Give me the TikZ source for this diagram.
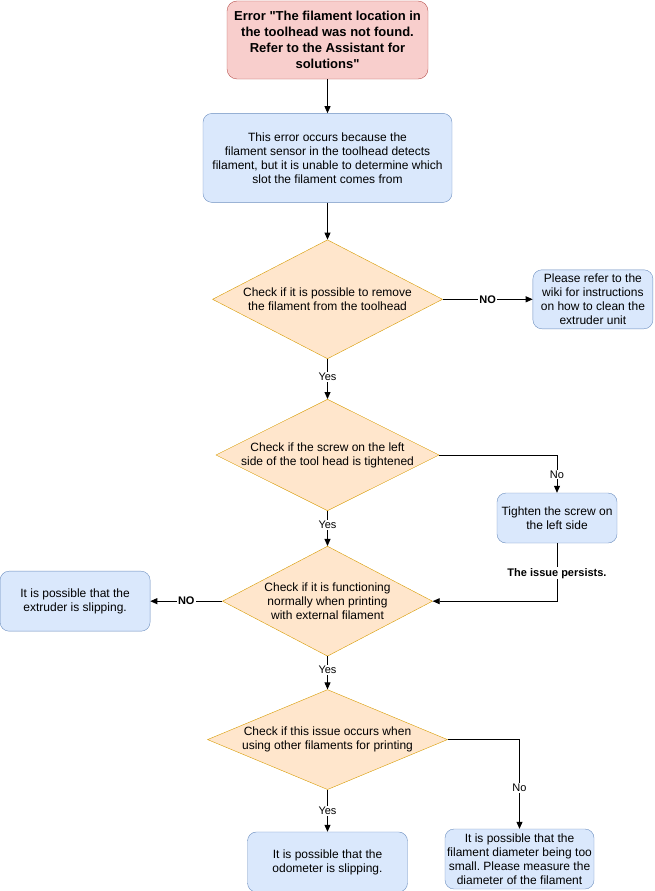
\documentclass[tikz,border=0pt]{standalone}
\usepackage{fontspec}
\setmainfont{Liberation Sans}[Ligatures=TeXOff]
\usetikzlibrary{positioning,shapes.geometric,arrows.meta}
\frenchspacing

\definecolor{errfill}{HTML}{F8CECC}
\definecolor{errline}{HTML}{B85450}
\definecolor{infofill}{HTML}{DAE8FC}
\definecolor{infoline}{HTML}{6C8EBF}
\definecolor{checkfill}{HTML}{FFE6CC}
\definecolor{checkline}{HTML}{D79B00}

\tikzset{
	errbox/.style={draw=errline, fill=errfill, rounded corners=10pt, align=center, inner sep=0pt, font=\fontsize{13}{16}\selectfont\bfseries},
	infobox/.style={draw=infoline, fill=infofill, rounded corners=9pt, align=center, inner sep=0pt, font=\fontsize{12}{14}\selectfont},
	check/.style={diamond, draw=checkline, fill=checkfill, align=center, inner sep=0pt, shape aspect=2, font=\fontsize{12}{14}\selectfont},
	flow/.style={-{Triangle[length=7pt,width=6pt]}, line width=0.8pt},
	lbl/.style={fill=white, inner sep=1pt, font=\fontsize{11}{13}\selectfont},
}

\begin{document}
\begin{tikzpicture}[x=1pt, y=-1pt]
	\useasboundingbox (0,0) rectangle (654,891);

	\node [errbox, minimum width=201pt, minimum height=78pt] (start) at (327.5,40) {Error "The filament location in\\the toolhead was not found.\\Refer to the Assistant for\\solutions"};
	\node [infobox, minimum width=249pt, minimum height=89pt, below=34pt of start] (cause) {This error occurs because the\\filament sensor in the toolhead detects\\filament, but it is unable to determine which\\slot the filament comes from};
	\node [check, minimum width=230pt, minimum height=119pt, below=37pt of cause] (remove) {Check if it is possible to remove\\the filament from the toolhead};
	\node [infobox, minimum width=120pt, minimum height=59pt, right=90pt of remove] (wiki) {Please refer to the\\wiki for instructions\\on how to clean the\\extruder unit};
	\node [check, minimum width=220pt, minimum height=110pt, below=40pt of remove] (screw) {Check if the screw on the left\\side of the tool head is tightened};
	\node [infobox, minimum width=120pt, minimum height=50pt] (tighten) at (557,518) {Tighten the screw on\\the left side};
	\node [check, minimum width=210pt, minimum height=110pt, below=35pt of screw] (external) {Check if it is functioning\\normally when printing\\with external filament};
	\node [infobox, minimum width=150pt, minimum height=60pt, left=72pt of external] (extruder) {It is possible that the\\extruder is slipping.};
	\node [check, minimum width=240pt, minimum height=100pt, shape aspect=2.4, below=33pt of external] (others) {Check if this issue occurs when\\using other filaments for printing};
	\node [infobox, minimum width=160pt, minimum height=60pt, below=42pt of others] (odometer) {It is possible that the\\odometer is slipping.};
	\node [infobox, minimum width=149pt, minimum height=60pt] (diameter) at (519.5,859) {It is possible that the\\filament diameter being too\\small. Please measure the\\diameter of the filament};

	\draw [flow] (start) -- (cause);
	\draw [flow] (cause) -- (remove);
	\draw [flow] (remove) -- node [lbl, font=\fontsize{11}{13}\selectfont\bfseries] {NO} (wiki);
	\draw [flow] (remove) -- node [lbl, pos=0.45] {Yes} (screw);
	\draw [flow] (screw.east) -| node [lbl, pos=0.76] {No} (tighten.north);
	\draw [flow] (tighten.south) |- node [lbl, pos=0.26, font=\fontsize{11}{13}\selectfont\bfseries] {The issue persists.} (external.east);
	\draw [flow] (screw) -- node [lbl, pos=0.4] {Yes} (external);
	\draw [flow] (external) -- node [lbl, pos=0.42] {Yes} (others);
	\draw [flow] (external) -- node [lbl, font=\fontsize{11}{13}\selectfont\bfseries] {NO} (extruder);
	\draw [flow] (others) -- node [lbl] {Yes} (odometer);
	\draw [flow] (others.east) -| node [lbl, pos=0.77] {No} (diameter.north);

\end{tikzpicture}
\end{document}
